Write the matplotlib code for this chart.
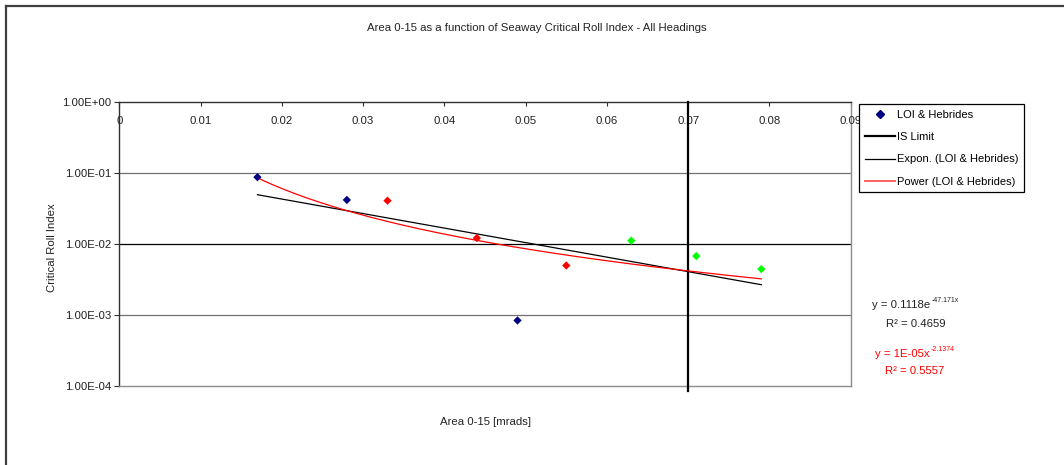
import numpy as np
import matplotlib
matplotlib.use("Agg")
import matplotlib.pyplot as plt
from matplotlib.lines import Line2D
from matplotlib.transforms import blended_transform_factory

plt.rcParams['font.family'] = ['Liberation Sans', 'DejaVu Sans']

# Seaway Area 0-15 [mrads] against Critical Roll Index, all headings
area = [0.017, 0.028, 0.049, 0.033, 0.044, 0.055, 0.063, 0.071, 0.079]
roll_index = [0.088, 0.042, 0.00084, 0.041, 0.0122, 0.0050, 0.0112, 0.0068, 0.00445]
point_colors = ['#000080', '#000080', '#000080',
                '#FF0000', '#FF0000', '#FF0000',
                '#00FF00', '#00FF00', '#00FF00']

is_limit = 0.07

x_ticks = [0, 0.01, 0.02, 0.03, 0.04, 0.05, 0.06, 0.07, 0.08, 0.09]
x_tick_labels = ["0", "0.01", "0.02", "0.03", "0.04", "0.05", "0.06", "0.07", "0.08", "0.09"]
y_ticks = [1e-4, 1e-3, 1e-2, 1e-1, 1e0]
y_tick_labels = ["1.00E-04", "1.00E-03", "1.00E-02", "1.00E-01", "1.00E+00"]

title = "Area 0-15 as a function of Seaway Critical Roll Index - All Headings"
x_label = "Area 0-15 [mrads]"
y_label = "Critical Roll Index"
series_name = "LOI & Hebrides"
exp_eq = ("y = 0.1118e", "-47.171x", "R\u00b2 = 0.4659")
pow_eq = ("y = 1E-05x", "-2.1374", "R\u00b2 = 0.5557")

FS = 8.2
TXT = '#222222'

W, H = 1064, 465
fig = plt.figure(figsize=(W / 100, H / 100), dpi=100)
fig.patch.set_facecolor('white')

ax = fig.add_axes([119.3 / W, 1 - 386 / H, (850.7 - 119.3) / W, (386 - 102.3) / H])
ax.set_yscale('log')
ax.set_xlim(0, 0.09)
ax.set_ylim(1e-4, 1)

# plot area frame: axis lines dark, far edges gray
for side in ('top', 'left'):
    ax.spines[side].set_color('#303030')
    ax.spines[side].set_linewidth(1.0)
for side in ('right', 'bottom'):
    ax.spines[side].set_color('#8c8c8c')
    ax.spines[side].set_linewidth(1.0)

# major gridlines
for yv in y_ticks[1:-1]:
    c = '#000000' if yv == 1e-2 else '#707070'
    ax.axhline(yv, color=c, lw=0.9, zorder=1)

ax.set_yticks(y_ticks)
ax.set_yticklabels(y_tick_labels)
ax.yaxis.set_minor_locator(matplotlib.ticker.NullLocator())
ax.tick_params(axis='y', direction='out', length=3.5, width=0.8, color='#303030',
               labelsize=FS, pad=2, labelcolor=TXT)

ax.set_xticks(x_ticks)
ax.tick_params(axis='x', top=True, bottom=False, labeltop=False, labelbottom=False,
               direction='in', length=3, width=0.8, color='#303030')
tr = blended_transform_factory(ax.transData, ax.transAxes)
for xv, lab in zip(x_ticks, x_tick_labels):
    ax.annotate(lab, xy=(xv, 1), xycoords=tr, xytext=(0, -19), textcoords='offset pixels',
                ha='center', va='center', fontsize=FS, color=TXT, annotation_clip=False)

# IS limit
ax.axvline(is_limit, ymin=-0.018, ymax=1, color='black', lw=1.6, clip_on=False, zorder=3)

# trendlines fitted to the points
xa = np.array(area)
ya = np.array(roll_index)
xs = np.linspace(xa.min(), xa.max(), 200)
b_exp, a_exp = np.polyfit(xa, np.log(ya), 1)
ax.plot(xs, np.exp(a_exp) * np.exp(b_exp * xs), color='black', lw=0.9, zorder=4)
b_pow, a_pow = np.polyfit(np.log(xa), np.log(ya), 1)
ax.plot(xs, np.exp(a_pow) * xs ** b_pow, color='#FF0000', lw=0.9, zorder=4)

ax.scatter(area, roll_index, c=point_colors, marker='D', s=18, linewidths=0, zorder=5)

# legend
handles = [
    Line2D([], [], ls='none', marker='D', color='#000080', markersize=4),
    Line2D([], [], color='black', lw=1.6),
    Line2D([], [], color='black', lw=0.9),
    Line2D([], [], color='#FF6060', lw=1.4),
]
labels = [series_name, "IS Limit", f"Expon. ({series_name})", f"Power ({series_name})"]
leg = fig.legend(handles, labels, loc='upper left', bbox_to_anchor=(859 / W, 1 - 104 / H),
                 fontsize=8.0, frameon=True, fancybox=False, edgecolor='black',
                 framealpha=1, borderpad=0.5, labelspacing=1.12, handlelength=2.7,
                 handletextpad=0.25, borderaxespad=0)
leg.get_frame().set_linewidth(0.9)
leg.set_zorder(10)


def equation(x, y, base, sup, color):
    t = fig.text(x / W, 1 - y / H, base, fontsize=FS, color=color, va='center')
    fig.canvas.draw()
    ax.annotate(sup, xy=(1, 0.62), xycoords=t, xytext=(1, 0), textcoords='offset pixels',
                fontsize=FS * 0.62, color=color, va='bottom', ha='left',
                annotation_clip=False)


# fitted equations
equation(872, 305, exp_eq[0], exp_eq[1], TXT)
fig.text(886 / W, 1 - 324 / H, exp_eq[2], fontsize=FS, color=TXT, va='center')
equation(875, 354, pow_eq[0], pow_eq[1], '#FF0000')
fig.text(885 / W, 1 - 371 / H, pow_eq[2], fontsize=FS, color='#FF0000', va='center')

# titles
fig.text(537 / W, 1 - 28 / H, title, fontsize=FS, ha='center', va='center', color=TXT)
fig.text(485 / W, 1 - 422 / H, x_label, fontsize=FS, ha='center', va='center', color=TXT)
fig.text(52 / W, 1 - 248 / H, y_label, fontsize=FS, ha='center', va='center',
         rotation=90, color=TXT)

# outer chart border (top and left edges)
fig.add_artist(Line2D([6 / W, 1], [1 - 6.5 / H, 1 - 6.5 / H], transform=fig.transFigure,
                      color='#404040', lw=1.6))
fig.add_artist(Line2D([6 / W, 6 / W], [0, 1 - 6.5 / H], transform=fig.transFigure,
                      color='#404040', lw=1.6))

fig.savefig('out.png', dpi=100)
